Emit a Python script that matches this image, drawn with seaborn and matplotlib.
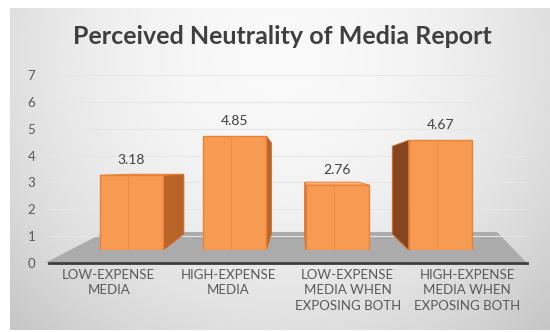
import numpy as np
import matplotlib
matplotlib.use("Agg")
import matplotlib.pyplot as plt
import seaborn as sns
from matplotlib.patches import Polygon
from matplotlib.transforms import IdentityTransform

# ---- data ----
categories = ["LOW-EXPENSE\nMEDIA", "HIGH-EXPENSE\nMEDIA",
              "LOW-EXPENSE\nMEDIA WHEN\nEXPOSING BOTH",
              "HIGH-EXPENSE\nMEDIA WHEN\nEXPOSING BOTH"]
values = [3.18, 4.85, 2.76, 4.67]
value_labels = ["3.18", "4.85", "2.76", "4.67"]
y_ticks = [0, 1, 2, 3, 4, 5, 6, 7]
title = "Perceived Neutrality of Media Report"

sns.set_theme(style="white")
plt.rcParams['font.family'] = ['Lato', 'DejaVu Sans']

W, H = 550, 332
fig = plt.figure(figsize=(W / 100, H / 100), dpi=100, facecolor='white')

# ---- gradient background panel ----
ax_bg = fig.add_axes([10 / W, 2 / H, 540 / W, 322 / H])
yy, xx = np.mgrid[0:1:200j, 0:1:300j]
r2 = ((xx - 0.5) / 0.65) ** 2 + ((yy - 0.15) / 1.1) ** 2
img = np.clip(0.975 - 0.17 * r2, 0.74, 1.0)
ax_bg.imshow(img, cmap='gray', vmin=0, vmax=1, aspect='auto',
             extent=[0, 1, 0, 1], origin='upper', interpolation='bilinear')
ax_bg.set_axis_off()

# ---- back wall axes: y ticks, category labels, floor ----
ax = fig.add_axes([49 / W, 69 / H, 478 / W, 188 / H])
ax.set_facecolor('none')
ax.set_xlim(-0.5, 3.5)
ax.set_ylim(0, 7)
ax.set_yticks(y_ticks)
ax.set_yticklabels([str(t) for t in y_ticks])
ax.set_xticks(range(len(categories)))
ax.set_xticklabels(categories, linespacing=1.35)
ax.tick_params(axis='y', length=0, pad=10, labelsize=9.5, labelcolor='#595959')
ax.tick_params(axis='x', length=0, pad=4, labelsize=9.5, labelcolor='#595959')
ax.grid(axis='y', color='#e6e6e6', lw=0.8)
for s in ['top', 'right', 'left']:
    ax.spines[s].set_visible(False)
ax.spines['bottom'].set_color('#3f3f3f')
ax.spines['bottom'].set_linewidth(2)
floor = Polygon([(-0.008, 0), (1.0, 0), (0.937, 0.165), (0.117, 0.165)],
                closed=True, transform=ax.transAxes, facecolor='#ababab',
                edgecolor='none', zorder=0.5, clip_on=False)
ax.add_patch(floor)

# ---- bar axes (front plane) ----
axb = fig.add_axes([80 / W, 82 / H, 412 / W, 164.5 / H])
axb.set_facecolor('none')
sns.barplot(x=categories, y=values, ax=axb, color='#F79A52', saturation=1,
            width=0.62, edgecolor='#E8813A', linewidth=1.0)
axb.set_xlim(-0.5, 3.5)
axb.set_ylim(0, 7)
axb.set_axis_off()

# pseudo-3D faces derived from each bar's geometry
VX, VY = 300, 162          # vanishing point (display px)
KX, KY = 0.15, 0.20
to_disp = axb.transData.transform


def back(p):
    return (p[0] + KX * (VX - p[0]), p[1] + KY * (VY - p[1]))


for i, patch in enumerate(axb.patches):
    patch.set_zorder(3)
    x0, y0 = patch.get_x(), patch.get_y()
    w, h = patch.get_width(), patch.get_height()
    bl = to_disp((x0, y0)); br = to_disp((x0 + w, y0))
    tl = to_disp((x0, y0 + h)); tr = to_disp((x0 + w, y0 + h))
    if br[0] < VX:   # right face visible
        pts = [br, tr, back(tr), back(br)]
        col = '#B9652A'
    elif bl[0] > VX:  # left face visible
        pts = [bl, tl, back(tl), back(bl)]
        col = '#86451E'
    else:
        pts = None
    if pts is not None:
        axb.add_patch(Polygon(pts, closed=True, transform=IdentityTransform(),
                              facecolor=col, edgecolor='#D0702C', lw=0.6,
                              zorder=2, clip_on=False))
    if tl[1] < VY:   # top face visible
        axb.add_patch(Polygon([tl, tr, back(tr), back(tl)], closed=True,
                              transform=IdentityTransform(), facecolor='#F9B27A',
                              edgecolor='#E57A2E', lw=0.6, zorder=2, clip_on=False))
    cx = x0 + w / 2
    axb.plot([cx - w * 0.05, cx - w * 0.05], [y0, y0 + h], color='#EE8C48',
             lw=0.8, zorder=4)
    axb.annotate(value_labels[i], (cx, values[i]), xytext=(0, 11),
                 textcoords='offset points', ha='center', va='center',
                 fontsize=10, color='#404040')

fig.text(282 / W, 1 - 37 / H, title, ha='center', va='center', fontsize=18,
         fontweight='bold', color='#3f3f3f')

fig.savefig('out.png', dpi=100, facecolor='white')
